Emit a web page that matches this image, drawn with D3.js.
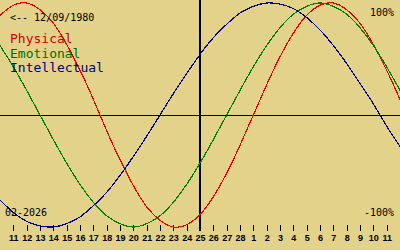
<!DOCTYPE html>
<html>
<head>
  <meta charset="utf-8">
  <script src="https://d3js.org/d3.v7.min.js"></script>
  <style>
    body { margin: 0; background: #e2d28a; }
    svg { display: block; }
    .mono { font-family: "DejaVu Sans Mono", monospace; }
  </style>
</head>
<body>
  <script type="text/javascript">
    "use strict";

    // day offsets from the centre day (25 Feb 2026)
    var days = [-15, -14, -13, -12, -11, -10, -9, -8, -7, -6, -5, -4, -3, -2, -1, 0,
                1, 2, 3, 4, 5, 6, 7, 8, 9, 10, 11, 12, 13, 14, 15];

    // labels under the ticks (offsets -14 .. 14)
    var dayLabels = ["11", "12", "13", "14", "15", "16", "17", "18", "19", "20", "21", "22",
                     "23", "24", "25", "26", "27", "28", "1", "2", "3", "4", "5", "6", "7",
                     "8", "9", "10", "11"];

    // percent values, one per day
    var physical = [89, 98, 100, 94, 82, 63, 40, 14, -14, -40, -63, -82, -94, -100, -98, -89,
                    -73, -52, -27, 0, 27, 52, 73, 89, 98, 100, 94, 82, 63, 40, 14];
    var emotional = [62, 43, 22, 0, -22, -43, -62, -78, -90, -97, -100, -97, -90, -78, -62, -43,
                     -22, 0, 22, 43, 62, 78, 90, 97, 100, 97, 90, 78, 62, 43, 22];
    var intellectual = [-76, -87, -95, -99, -100, -97, -91, -81, -69, -54, -37, -19, 0, 19, 37, 54,
                        69, 81, 91, 97, 100, 99, 95, 87, 76, 62, 46, 28, 10, -10, -28];

    var seriesNames = ["Physical", "Emotional", "Intellectual"];
    var seriesColors = ["#ee0000", "#008000", "#000090"];
    var textColors = ["#d00000", "#007000", "#000080"];

    var width = 400, height = 250;

    var svg = d3.select("body").append("svg")
      .attr("width", width)
      .attr("height", height);

    svg.append("rect")
      .attr("width", width).attr("height", height)
      .attr("fill", "#e2d28a");

    var x = d3.scaleLinear().domain([-15, 15]).range([0, 400]);
    var y = d3.scaleLinear().domain([-100, 100]).range([227, 3]);

    // zero line and today line
    svg.append("line")
      .attr("x1", 0).attr("x2", width)
      .attr("y1", y(0)).attr("y2", y(0))
      .attr("stroke", "#000").attr("stroke-width", 1)
      .attr("shape-rendering", "crispEdges");

    svg.append("line")
      .attr("x1", x(0)).attr("x2", x(0))
      .attr("y1", 0).attr("y2", 231)
      .attr("stroke", "#000").attr("stroke-width", 2)
      .attr("shape-rendering", "crispEdges");

    // day axis
    var axis = d3.axisBottom(x)
      .tickValues(d3.range(-14, 15))
      .tickSize(6)
      .tickPadding(4)
      .tickFormat(function (d) { return dayLabels[d + 14]; });

    var gAxis = svg.append("g")
      .attr("transform", "translate(0,225)")
      .call(axis);
    gAxis.select(".domain").remove();
    gAxis.selectAll("line")
      .attr("stroke", "#000")
      .attr("stroke-width", 1)
      .attr("shape-rendering", "crispEdges");
    gAxis.selectAll("text")
      .attr("fill", "#000")
      .style("font-family", "'Liberation Sans', Arial, sans-serif")
      .style("font-weight", "bold")
      .style("font-size", "9px");

    // curves
    var series = [physical, emotional, intellectual];
    var line = d3.line()
      .x(function (d, i) { return x(days[i]); })
      .y(function (d) { return y(d); })
      .curve(d3.curveNatural);

    series.forEach(function (s, i) {
      svg.append("path")
        .datum(s)
        .attr("d", line)
        .attr("fill", "none")
        .attr("stroke", seriesColors[i])
        .attr("stroke-width", 1.2)
        .attr("shape-rendering", "crispEdges");
    });

    // texts
    svg.append("text").attr("class", "mono")
      .attr("x", 10).attr("y", 21)
      .style("font-size", "10px")
      .text("<-- 12/09/1980");

    seriesNames.forEach(function (n, i) {
      svg.append("text").attr("class", "mono")
        .attr("x", 10).attr("y", 43 + i * 14.5)
        .attr("fill", textColors[i])
        .style("font-size", "13px")
        .text(n);
    });

    svg.append("text").attr("class", "mono")
      .attr("x", 5).attr("y", 216)
      .style("font-size", "10px")
      .text("02-2026");

    svg.append("text").attr("class", "mono")
      .attr("x", 394).attr("y", 16)
      .attr("text-anchor", "end")
      .style("font-size", "10px")
      .text("100%");

    svg.append("text").attr("class", "mono")
      .attr("x", 394).attr("y", 216)
      .attr("text-anchor", "end")
      .style("font-size", "10px")
      .text("-100%");
  </script>
</body>
</html>
